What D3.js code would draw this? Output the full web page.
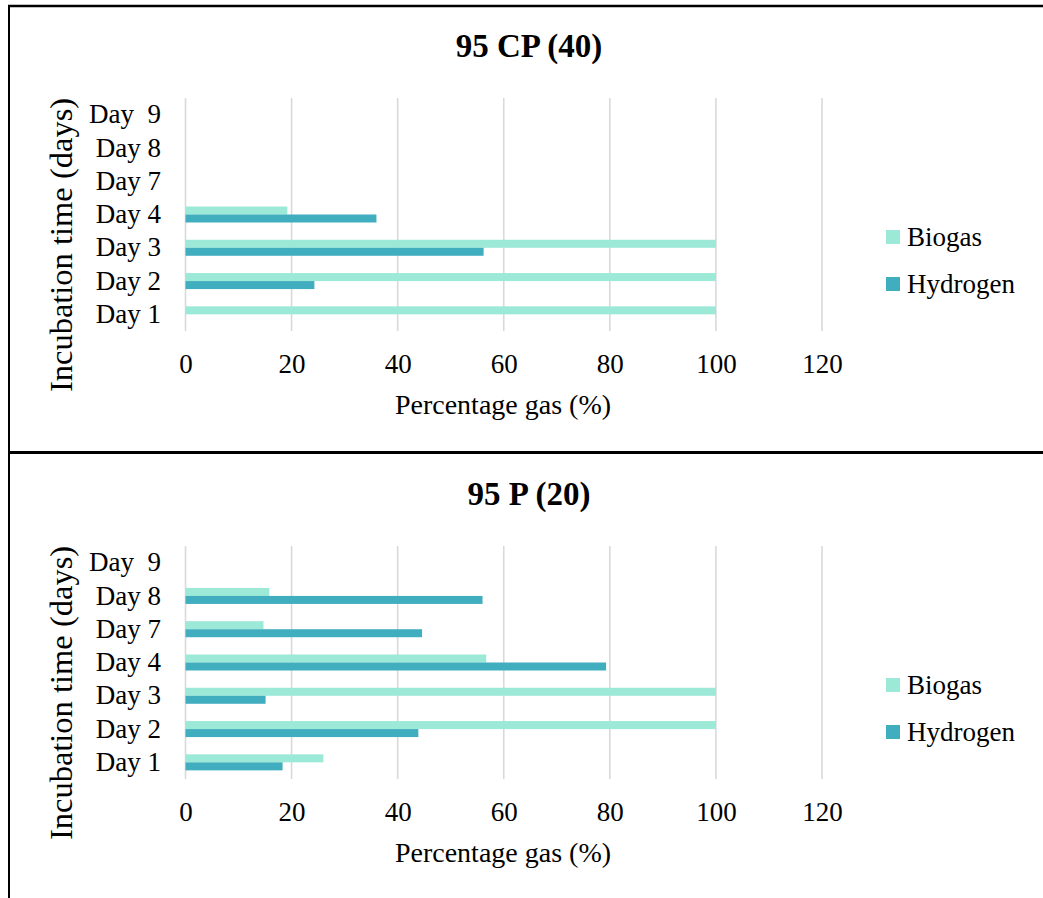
<!DOCTYPE html>
<html>
<head>
<meta charset="utf-8">
<script src="https://cdn.jsdelivr.net/npm/d3@7"></script>
<style>
  html, body { margin: 0; padding: 0; background: #fff; }
  svg { display: block; }
  text { font-family: "Liberation Serif", "Times New Roman", serif; fill: #000; }
</style>
</head>
<body>
<svg id="chart" width="1043" height="898"></svg>
<script>
// Incubation days shown on the category axis, top to bottom
const days = ["Day  9", "Day 8", "Day 7", "Day 4", "Day 3", "Day 2", "Day 1"];
const seriesNames = ["Biogas", "Hydrogen"];
const xTicks = [0, 20, 40, 60, 80, 100, 120];

// 95 CP (40) — percentage gas per day (null = not measured)
const cp40Biogas   = [null, null, null, 19.2, 100, 100, 100];
const cp40Hydrogen = [null, null, null, 36.0, 56.2, 24.3, null];

// 95 P (20) — percentage gas per day
const p20Biogas   = [null, 15.8, 14.7, 56.7, 100, 100, 26.0];
const p20Hydrogen = [null, 56.0, 44.6, 79.3, 15.1, 43.9, 18.3];

const colors = { Biogas: "#9be9d6", Hydrogen: "#41aebf" };
const serif = "'Liberation Serif', 'Times New Roman', serif";

const svg = d3.select("#chart");

// Frame lines around the two panels
svg.append("line").attr("x1", 8).attr("x2", 1043).attr("y1", 6).attr("y2", 6)
  .attr("stroke", "#000").attr("stroke-width", 2.5);
svg.append("line").attr("x1", 9).attr("x2", 9).attr("y1", 5).attr("y2", 898)
  .attr("stroke", "#000").attr("stroke-width", 2);
svg.append("line").attr("x1", 8).attr("x2", 1043).attr("y1", 452.5).attr("y2", 452.5)
  .attr("stroke", "#000").attr("stroke-width", 3);

function drawPanel(offsetY, title, biogas, hydrogen) {
  const g = svg.append("g").attr("transform", `translate(0,${offsetY})`);
  const plotTop = 98, plotBottom = 331;

  const x = d3.scaleLinear().domain([0, 120]).range([185.5, 822]);
  const y = d3.scaleBand().domain(days).range([plotTop, plotBottom]).padding(0);
  const inner = d3.scaleBand().domain(seriesNames)
    .range([0, y.bandwidth()]).paddingInner(0).paddingOuter(1.08);

  // Title
  g.append("text")
    .attr("x", 529).attr("y", 57)
    .attr("text-anchor", "middle")
    .style("font-size", "33px").style("font-weight", "bold")
    .text(title);

  // Vertical gridlines
  g.append("g").selectAll("line").data(xTicks).join("line")
    .attr("x1", d => x(d)).attr("x2", d => x(d))
    .attr("y1", plotTop).attr("y2", plotBottom)
    .attr("stroke", "#d9d9d9").attr("stroke-width", 1.6);

  // Bars
  const rows = days.map((d, i) => ({ day: d, Biogas: biogas[i], Hydrogen: hydrogen[i] }));
  const groups = g.append("g").selectAll("g").data(rows).join("g")
    .attr("transform", d => `translate(0,${y(d.day)})`);
  groups.selectAll("rect")
    .data(d => seriesNames.filter(s => d[s] != null).map(s => ({ s, v: d[s] })))
    .join("rect")
    .attr("x", x(0))
    .attr("y", d => inner(d.s))
    .attr("width", d => x(d.v) - x(0))
    .attr("height", inner.bandwidth())
    .attr("fill", d => colors[d.s]);

  // X axis labels
  const xAxis = g.append("g")
    .attr("transform", `translate(0,${plotBottom})`)
    .call(d3.axisBottom(x).tickValues(xTicks).tickSize(0).tickPadding(23).tickFormat(d3.format("d")));
  xAxis.select(".domain").remove();
  xAxis.selectAll("text").style("font-size", "27px")
    .style("font-family", serif).attr("fill", "#000");

  // Y axis labels
  const yAxis = g.append("g")
    .attr("transform", `translate(161,0)`)
    .call(d3.axisLeft(y).tickSize(0).tickPadding(0));
  yAxis.select(".domain").remove();
  yAxis.selectAll("text").style("font-size", "27px").style("white-space", "pre")
    .style("font-family", serif).attr("fill", "#000");

  // Axis titles
  g.append("text")
    .attr("x", 503).attr("y", 414)
    .attr("text-anchor", "middle")
    .style("font-size", "28px")
    .text("Percentage gas (%)");
  g.append("text")
    .attr("transform", `translate(72,245) rotate(-90)`)
    .attr("text-anchor", "middle")
    .style("font-size", "32.5px")
    .text("Incubation time (days)");

  // Legend
  const legend = g.append("g").selectAll("g").data(seriesNames).join("g")
    .attr("transform", (d, i) => `translate(886,${230 + i * 47})`);
  legend.append("rect").attr("width", 14).attr("height", 14).attr("fill", d => colors[d]);
  legend.append("text").attr("x", 21).attr("y", 16)
    .style("font-size", "27px").text(d => d);
}

drawPanel(0, "95 CP (40)", cp40Biogas, cp40Hydrogen);
drawPanel(448, "95 P (20)", p20Biogas, p20Hydrogen);
</script>
</body>
</html>
